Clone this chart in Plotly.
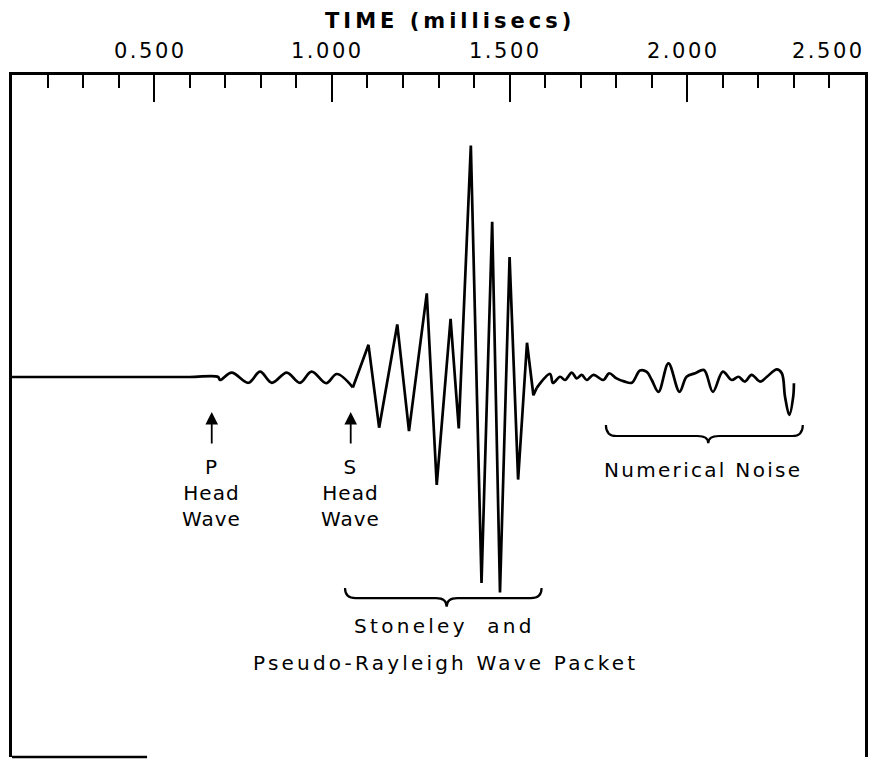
import plotly.graph_objects as go

# ---- data (time in ms, amplitude normalised to largest peak) ----
time_ms = [0.100, 0.400, 0.600, 0.680, 0.685, 0.718, 0.765, 0.798, 0.831, 0.873, 0.910, 0.943, 0.984, 1.014,
           1.059,
           1.103, 1.133, 1.184, 1.217, 1.267, 1.295, 1.334, 1.357, 1.391, 1.421, 1.451, 1.473, 1.500,
           1.524, 1.549, 1.567, 1.576,
           1.614, 1.622, 1.642, 1.656, 1.675, 1.689, 1.703, 1.717, 1.736,
           1.764, 1.780, 1.801, 1.822, 1.844, 1.867, 1.886, 1.900, 1.919, 1.947, 1.978, 1.998, 2.022,
           2.047, 2.072, 2.100, 2.125, 2.144, 2.162, 2.181, 2.205, 2.224, 2.252, 2.266, 2.275, 2.287,
           2.298, 2.300]
amplitude = [0, 0, 0, 0, -0.013, 0.019, -0.025, 0.023, -0.025, 0.019, -0.025, 0.023, -0.027, 0.013,
             -0.045,
             0.139, -0.219, 0.227, -0.234, 0.361, -0.466, 0.251, -0.222, 1.000, -0.890, 0.670, -0.931, 0.518,
             -0.443, 0.148, -0.079, -0.048,
             0.013, -0.026, 0.001, -0.013, 0.019, -0.006, 0.009, -0.013, 0.009,
             -0.013, 0.016, -0.006, -0.019, -0.025, 0.028, 0.022, -0.013, -0.064, 0.059, -0.064, 0.001, 0.016,
             0.030, -0.064, 0.023, -0.013, 0.001, -0.020, 0.009, -0.020, 0.001, 0.033, 0.016, -0.085, -0.164,
             -0.085, -0.027]

# time window of the sharp-peaked wave packet (drawn with straight segments)
packet_window = (1.059, 1.576)

tick_values = [0.5, 1.0, 1.5, 2.0, 2.5]
tick_labels = ["0.500", "1.000", "1.500", "2.000", "2.500"]

x_range = [0.1, 2.5]
y_range = [-1.6415, 1.3045]

# arrivals marked with arrows
arrival_times = [0.662, 1.053]
arrival_labels = ["P<br>Head<br>Wave", "S<br>Head<br>Wave"]

# braces: start / tip / end times and levels (hook top, line, tip)
packet_brace = dict(t0=1.037, tm=1.323, t1=1.590, top=-0.911, line=-0.955, tip=-0.992)
noise_brace = dict(t0=1.771, tm=2.059, t1=2.325, top=-0.207, line=-0.255, tip=-0.286)

FONT = "DejaVu Sans"


def spaced(text, px):
    return f'<span style="letter-spacing:{px}px">{text}</span>'


fig = go.Figure()
i0 = time_ms.index(packet_window[0])
i1 = time_ms.index(packet_window[1])
segments = [(0, i0 + 1, "spline"), (i0, i1 + 1, "linear"), (i1, len(time_ms), "spline")]
for a, b, shape in segments:
    line = dict(color="black", width=2.7, shape=shape)
    if shape == "spline":
        line["smoothing"] = 1.0
    fig.add_trace(go.Scatter(x=time_ms[a:b], y=amplitude[a:b], mode="lines", line=line,
                             hoverinfo="skip"))


def brace_path(b, w=0.03):
    t0, tm, t1 = b["t0"], b["tm"], b["t1"]
    top, line, tip = b["top"], b["line"], b["tip"]
    return (f"M {t0} {top} Q {t0} {line} {t0 + w} {line} "
            f"L {tm - w} {line} Q {tm} {line} {tm} {tip} "
            f"Q {tm} {line} {tm + w} {line} "
            f"L {t1 - w} {line} Q {t1} {line} {t1} {top}")


shapes = []
for b in (packet_brace, noise_brace):
    shapes.append(dict(type="path", xref="x", yref="y", path=brace_path(b),
                       line=dict(color="black", width=2.2)))
# partial bottom frame line visible in the scan
shapes.append(dict(type="line", xref="x", yref="paper", x0=0.1, x1=0.48, y0=0, y1=0,
                   line=dict(color="black", width=2.5)))

annotations = []
for v, lab in zip(tick_values, tick_labels):
    last = v == tick_values[-1]
    annotations.append(dict(x=v, y=1, xref="x", yref="paper", text=spaced(lab, 2.5), showarrow=False,
                            xanchor="right" if last else "center", yanchor="bottom",
                            xshift=2 if last else -4, yshift=10,
                            font=dict(family=FONT, size=21, color="black")))
annotations.append(dict(x=0.5135, y=1, xref="paper", yref="paper", text=spaced("TIME (millisecs)", 4),
                        showarrow=False, xanchor="center", yanchor="middle", yshift=54,
                        font=dict(family=FONT, size=21, color="black", weight="bold")))
for t, lab in zip(arrival_times, arrival_labels):
    annotations.append(dict(x=t, y=-0.151, ax=t, ay=-0.294, xref="x", yref="y", axref="x", ayref="y",
                            text="", showarrow=True, arrowhead=2, arrowsize=1.4, arrowwidth=1.8,
                            arrowcolor="black"))
    annotations.append(dict(x=t, y=-0.33, xref="x", yref="y", text=spaced(lab, 1), showarrow=False,
                            xanchor="center", yanchor="top", align="center",
                            font=dict(family=FONT, size=20, color="black")))
annotations.append(dict(x=1.318, y=-1.076, xref="x", yref="y", text=spaced("Stoneley  and", 3.3),
                        showarrow=False, xanchor="center", yanchor="middle",
                        font=dict(family=FONT, size=20, color="black")))
annotations.append(dict(x=1.320, y=-1.235, xref="x", yref="y",
                        text=spaced("Pseudo-Rayleigh Wave Packet", 3.2),
                        showarrow=False, xanchor="center", yanchor="middle",
                        font=dict(family=FONT, size=20, color="black")))
annotations.append(dict(x=2.044, y=-0.402, xref="x", yref="y", text=spaced("Numerical Noise", 2.3),
                        showarrow=False, xanchor="center", yanchor="middle",
                        font=dict(family=FONT, size=20, color="black")))

fig.update_layout(
    width=879, height=761, autosize=False,
    margin=dict(l=12, r=14, t=75, b=4),
    plot_bgcolor="white", paper_bgcolor="white", showlegend=False,
    shapes=shapes, annotations=annotations,
    xaxis=dict(range=x_range, side="top", showline=True, linecolor="black", linewidth=2.5,
               mirror=False, ticks="inside", tickmode="linear", tick0=0, dtick=0.5,
               ticklen=27, tickwidth=2, tickcolor="black", showticklabels=False,
               showgrid=False, zeroline=False,
               minor=dict(tickmode="linear", tick0=0, dtick=0.1, ticks="inside", ticklen=13,
                          tickwidth=2, tickcolor="black", showgrid=False)),
    yaxis=dict(range=y_range, showline=True, mirror=True, linecolor="black", linewidth=2.5,
               ticks="", showticklabels=False, showgrid=False, zeroline=False),
)

fig.write_html("out.html", config={"displayModeBar": False},
               post_script="document.body.style.margin='0px';document.body.style.overflow='hidden';")
